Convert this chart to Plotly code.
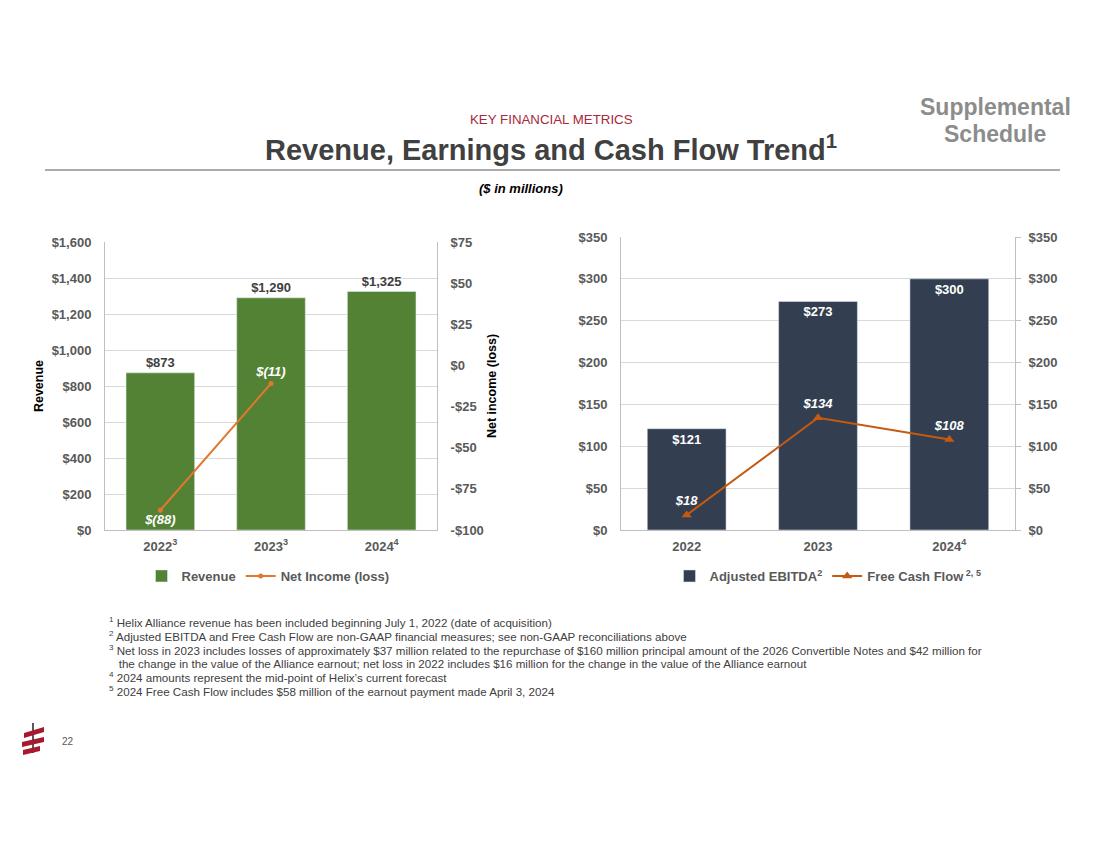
import plotly.graph_objects as go

# Data
years_left = ["2022<sup>3</sup>", "2023<sup>3</sup>", "2024<sup>4</sup>"]
revenue = [873, 1290, 1325]
net_income = [-88, -11, None]
revenue_labels = ["$873", "$1,290", "$1,325"]
net_income_labels = ["$(88)", "$(11)", " "]

years_right = ["2022", "2023", "2024<sup>4</sup>"]
adj_ebitda = [121, 273, 300]
free_cash_flow = [18, 134, 108]
ebitda_labels = ["$121", "$273", "$300"]
fcf_labels = ["$18", "$134", "$108"]

rev_ticks = list(range(0, 1601, 200))
rev_ticktext = ["$" + format(v, ",") for v in rev_ticks]
ni_ticks = list(range(-100, 76, 25))
ni_ticktext = [("-$" + str(-v)) if v < 0 else ("$" + str(v)) for v in ni_ticks]
cf_ticks = list(range(0, 351, 50))
cf_ticktext = ["$" + str(v) for v in cf_ticks]

footnotes = [
    "<sup>1</sup> Helix Alliance revenue has been included beginning July 1, 2022 (date of acquisition)",
    "<sup>2</sup> Adjusted EBITDA and Free Cash Flow are non-GAAP financial measures; see non-GAAP reconciliations above",
    "<sup>3</sup> Net loss in 2023 includes losses of approximately $37 million related to the repurchase of $160 million principal amount of the 2026 Convertible Notes and $42 million for",
    "   the change in the value of the Alliance earnout; net loss in 2022 includes $16 million for the change in the value of the Alliance earnout",
    "<sup>4</sup> 2024 amounts represent the mid-point of Helix\u2019s current forecast",
    "<sup>5</sup> 2024 Free Cash Flow includes $58 million of the earnout payment made April 3, 2024",
]

W, H = 1100, 849
OFF = 8  # page margin of the html body
FONT = "Liberation Sans, Arial, sans-serif"
GREEN = "#548235"
NAVY = "#333F50"
ORANGE_L = "#E2772F"
ORANGE_R = "#C55A11"
TICK = "#595959"
GRID = "#D9D9D9"
FRAME = "#BFBFBF"


def px(x):
    return (x - OFF) / W


def py(y):
    return 1 - (y - OFF) / H


fig = go.Figure()

# Left chart
fig.add_trace(go.Bar(
    x=years_left, y=revenue, name="Revenue", marker_color=GREEN, width=0.62,
    text=revenue_labels, textposition="outside", cliponaxis=False,
    textfont=dict(family=FONT, size=13, color="#404040", weight="bold"),
    xaxis="x", yaxis="y", legend="legend",
))
fig.add_trace(go.Scatter(
    x=years_left, y=net_income, name="Net Income (loss)", mode="lines+markers+text",
    line=dict(color=ORANGE_L, width=2), marker=dict(size=5, color=ORANGE_L),
    text=["<i>" + t + "</i>" for t in net_income_labels],
    textposition=["bottom center", "top center", "top center"], cliponaxis=False,
    textfont=dict(family=FONT, size=13, color="white", weight="bold"),
    xaxis="x", yaxis="y2", legend="legend",
))

# Right chart
fig.add_trace(go.Bar(
    x=years_right, y=adj_ebitda, name="Adjusted EBITDA<sup>2</sup>", marker_color=NAVY, width=0.6,
    text=ebitda_labels, textposition="inside", insidetextanchor="end",
    textfont=dict(family=FONT, size=13, color="white", weight="bold"),
    xaxis="x3", yaxis="y3", legend="legend2",
))
fig.add_trace(go.Scatter(
    x=years_right, y=free_cash_flow, name="Free Cash Flow<sup> 2, 5</sup>", mode="lines+markers+text",
    line=dict(color=ORANGE_R, width=2), marker=dict(size=9, symbol="triangle-up", color=ORANGE_R),
    text=["<i>" + t + "</i>" for t in fcf_labels], textposition="top center", cliponaxis=False,
    textfont=dict(family=FONT, size=13, color="white", weight="bold"),
    xaxis="x3", yaxis="y4", legend="legend2",
))

tickfont = dict(family=FONT, size=13, color=TICK, weight="bold")
xtickfont = dict(family=FONT, size=13, color=TICK, weight="bold")
titlefont = dict(family=FONT, size=12.5, color="black", weight="bold")
legfont = dict(family=FONT, size=13, color=TICK, weight="bold")
dom_y = [py(530), py(242)]
dom_y_r = [py(530), py(237)]

fig.update_layout(
    width=W, height=H, margin=dict(l=0, r=0, t=0, b=0, autoexpand=False),
    paper_bgcolor="white", plot_bgcolor="white",
    font=dict(family=FONT, color="#404040"),
    xaxis=dict(domain=[px(105), px(437)], anchor="y", tickfont=xtickfont,
               showline=True, linecolor=FRAME, ticks="", ticklabelstandoff=4, fixedrange=True),
    yaxis=dict(domain=dom_y, range=[0, 1600], tickvals=rev_ticks, ticktext=rev_ticktext,
               tickfont=tickfont, gridcolor=GRID, showline=True, linecolor=FRAME,
               zeroline=False, ticks="", ticklabelstandoff=10, anchor="x",
               title=dict(text="Revenue", font=titlefont, standoff=5)),
    yaxis2=dict(overlaying="y", side="right", anchor="x", range=[-100, 75], tickvals=ni_ticks,
                ticktext=ni_ticktext, tickfont=tickfont, showgrid=False, zeroline=False,
                showline=True, linecolor=FRAME, ticks="", ticklabelstandoff=10,
                title=dict(text="Net income (loss)", font=titlefont, standoff=4)),
    xaxis3=dict(domain=[px(621), px(1015)], anchor="y3", tickfont=xtickfont,
                showline=True, linecolor=FRAME, ticks="", ticklabelstandoff=4),
    yaxis3=dict(domain=dom_y_r, anchor="x3", range=[0, 350], tickvals=cf_ticks, ticktext=cf_ticktext,
                tickfont=tickfont, gridcolor=GRID, showline=True, linecolor=FRAME,
                zeroline=False, ticks="", ticklabelstandoff=10),
    yaxis4=dict(overlaying="y3", side="right", anchor="x3", range=[0, 350], tickvals=cf_ticks,
                ticktext=cf_ticktext, tickfont=tickfont, showgrid=False, zeroline=False,
                showline=True, linecolor=FRAME, ticks="outside", ticklen=5, tickcolor=FRAME,
                ticklabelstandoff=5),
    legend=dict(orientation="h", x=px(268), xanchor="center", y=py(576), yanchor="middle",
                font=legfont, itemwidth=30, tracegroupgap=0),
    legend2=dict(orientation="h", x=px(828), xanchor="center", y=py(576), yanchor="middle",
                 font=legfont, itemwidth=30, tracegroupgap=0),
)

# Header texts
fig.add_annotation(x=px(551), y=py(119), xref="paper", yref="paper", showarrow=False,
                   xanchor="center", yanchor="middle",
                   text="KEY FINANCIAL METRICS", font=dict(family=FONT, size=13.3, color="#A6283A"))
fig.add_annotation(x=px(551), y=py(148), xref="paper", yref="paper", showarrow=False,
                   xanchor="center", yanchor="middle",
                   text="<b>Revenue, Earnings and Cash Flow Trend<sup>1</sup></b>",
                   font=dict(family=FONT, size=29, color="#404040"))
fig.add_annotation(x=px(995), y=py(107), xref="paper", yref="paper", showarrow=False,
                   xanchor="center", yanchor="middle",
                   text="<b>Supplemental</b>", font=dict(family=FONT, size=23, color="#8C8C8C"))
fig.add_annotation(x=px(995), y=py(134), xref="paper", yref="paper", showarrow=False,
                   xanchor="center", yanchor="middle",
                   text="<b>Schedule</b>", font=dict(family=FONT, size=23, color="#8C8C8C"))
fig.add_annotation(x=px(521), y=py(189), xref="paper", yref="paper", showarrow=False,
                   xanchor="center", yanchor="middle",
                   text="<b><i>($ in millions)</i></b>", font=dict(family=FONT, size=13, color="black"))
fig.add_shape(type="line", xref="paper", yref="paper", x0=px(45), x1=px(1060), y0=py(170), y1=py(170),
              line=dict(color="#595959", width=1.2))

# Footnotes
foot_y = [622, 636, 650, 663, 677, 691]
for txt, yy in zip(footnotes, foot_y):
    fig.add_annotation(x=px(107), y=py(yy), xref="paper", yref="paper", showarrow=False,
                       xanchor="left", yanchor="middle", text=txt,
                       font=dict(family=FONT, size=11.6, color="#404040"))

# Page number and logo
fig.add_annotation(x=px(60), y=py(741), xref="paper", yref="paper", showarrow=False,
                   xanchor="left", yanchor="middle", text="22",
                   font=dict(family=FONT, size=10, color="#595959"))
fig.add_shape(type="line", xref="paper", yref="paper", x0=px(33), x1=px(33), y0=py(723), y1=py(753),
              line=dict(color="#222222", width=1.5))
for (x0, y0, x1, y1) in [(24, 733, 44, 727), (22, 742, 44, 737), (23, 750, 40, 746)]:
    path = "M {} {} L {} {} L {} {} L {} {} Z".format(
        px(x0), py(y0), px(x1), py(y1), px(x1), py(y1 + 5), px(x0), py(y0 + 5))
    fig.add_shape(type="path", xref="paper", yref="paper", path=path,
                  fillcolor="#A6192E", line=dict(width=0))

fig.write_html("out.html")
